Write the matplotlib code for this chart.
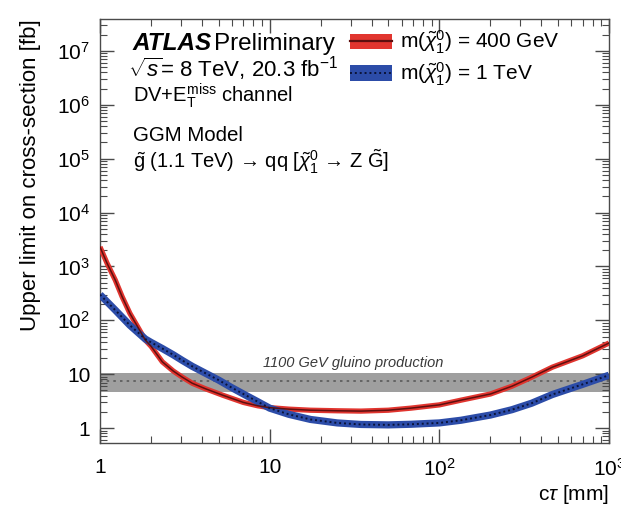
import math
import matplotlib
matplotlib.use("Agg")
import matplotlib.pyplot as plt
from matplotlib.patches import Patch
from matplotlib.lines import Line2D
from matplotlib.legend_handler import HandlerTuple
from matplotlib.ticker import LogLocator, FuncFormatter, NullFormatter

plt.rcParams["font.family"] = ["Liberation Sans", "DejaVu Sans"]
plt.rcParams["mathtext.fontset"] = "custom"
plt.rcParams["mathtext.rm"] = "Liberation Sans"
plt.rcParams["mathtext.it"] = "Liberation Sans:italic"
plt.rcParams["mathtext.bf"] = "Liberation Sans:bold"

# Proper decay length c*tau [mm] and upper limits on cross-section [fb]
ctau_400gev = [1, 1.1, 1.23, 1.35, 1.5, 1.85, 2.0, 2.33, 2.7, 3.06, 3.5, 4.17, 5.27, 7.0, 8.5,
               10, 13, 17.4, 25, 34.5, 50, 68, 100, 134, 200, 268, 350, 463, 700, 1000]
limit_400gev = [2300, 1150, 560, 275, 135, 43, 33, 17, 11.5, 8.8, 6.8, 5.4, 4.1, 3.0, 2.6,
                2.4, 2.25, 2.15, 2.1, 2.07, 2.15, 2.35, 2.7, 3.3, 4.3, 6.0, 8.8, 13.5, 22, 38]

ctau_1tev = [1, 1.23, 1.5, 1.85, 2.0, 2.33, 2.7, 3.06, 3.5, 4.17, 5.0, 6.0, 7.0, 8.5,
             10, 13, 17.4, 25, 34.5, 50, 68, 100, 134, 200, 268, 350, 463, 700, 1000]
limit_1tev = [300, 155, 81, 45, 39, 30, 23, 18, 14, 10.5, 7.8, 5.6, 4.3, 3.1,
              2.35, 1.8, 1.45, 1.25, 1.17, 1.15, 1.18, 1.25, 1.4, 1.75, 2.2, 2.9, 4.2, 6.5, 9.6]

# 1100 GeV gluino production cross-section and its uncertainty band [fb]
xsec_central = 7.4
xsec_low = 4.7
xsec_high = 10.5

series_labels = [r"m($\tilde{\chi}^0_1$) = 400 GeV", r"m($\tilde{\chi}^0_1$) = 1 TeV"]

red_band, red_line = "#e1352f", "#5e0f0f"
blue_band, blue_line = "#2c4ca8", "#0b1338"

fig = plt.figure(figsize=(6.21, 5.16), dpi=100)
ax = fig.add_axes([100 / 621, 1 - 443 / 516, 509 / 621, 424 / 516])
ax.set_xscale("log")
ax.set_yscale("log")
ax.set_xlim(1, 1000)
ax.set_ylim(0.53, 3.9e7)

# Theory cross-section band
ax.axhspan(xsec_low, xsec_high, color="#9f9f9f", lw=0, zorder=1)
ax.axhline(xsec_central, color="#5a5a5a", lw=1.2, ls=(0, (1.5, 2.5)), zorder=1.5)
ax.text(9.1, 13.6, "1100 GeV gluino production", fontsize=10.5, style="italic",
        color="#3a3a3a", ha="left", va="baseline", zorder=2)

# Limit curves: coloured band with a dark central line
ax.plot(ctau_400gev, limit_400gev, color=red_band, lw=3.8, solid_capstyle="butt", zorder=3)
ax.plot(ctau_400gev, limit_400gev, color=red_line, lw=1.1, zorder=4)
ax.plot(ctau_1tev, limit_1tev, color=blue_band, lw=5.2, solid_capstyle="butt", zorder=3)
ax.plot(ctau_1tev, limit_1tev, color=blue_line, lw=1.4, ls=(0, (1, 1.5)), zorder=4)

# Axes styling
for s in ax.spines.values():
    s.set_color("#4a4a4a")
    s.set_linewidth(1.0)

ax.xaxis.set_major_locator(LogLocator(base=10, numticks=10))
ax.xaxis.set_minor_locator(LogLocator(base=10, subs=range(2, 10), numticks=20))
ax.yaxis.set_major_locator(LogLocator(base=10, numticks=20))
ax.yaxis.set_minor_locator(LogLocator(base=10, subs=range(2, 10), numticks=40))


def fmt(v, pos):
    if abs(v - 1) < 1e-9:
        return "1"
    if abs(v - 10) < 1e-9:
        return "10"
    return r"$10^{%d}$" % round(math.log10(v))


ax.xaxis.set_major_formatter(FuncFormatter(fmt))
ax.yaxis.set_major_formatter(FuncFormatter(fmt))
ax.xaxis.set_minor_formatter(NullFormatter())
ax.yaxis.set_minor_formatter(NullFormatter())

ax.tick_params(which="both", direction="in", top=True, right=True, color="#4a4a4a")
ax.tick_params(which="major", length=10, width=1.0)
ax.tick_params(which="minor", length=5, width=0.8)
ax.tick_params(axis="x", which="major", labelsize=15, pad=11)
ax.tick_params(axis="y", which="major", labelsize=15, pad=7)

ax.set_ylabel("Upper limit on cross-section [fb]", fontsize=16, loc="top")
ax.yaxis.set_label_coords(-0.116, 1.0)
ax.set_xlabel(r"c$\tau$ [mm]", fontsize=15, loc="right")
ax.xaxis.set_label_coords(1.0, -0.094)

# Legend: filled box with the central line drawn on top
handles = [
    (Patch(facecolor=red_band, edgecolor="none"), Line2D([], [], color=red_line, lw=1.6)),
    (Patch(facecolor=blue_band, edgecolor="none"), Line2D([], [], color=blue_line, lw=1.4, ls=(0, (1, 1.5)))),
]
leg = ax.legend(handles, series_labels, handler_map={tuple: HandlerTuple(ndivide=1, pad=0)},
                loc="upper left", bbox_to_anchor=(350 / 621, 1 - 29 / 516),
                bbox_transform=fig.transFigure, frameon=False, fontsize=15,
                handlelength=2.0, handleheight=0.75, handletextpad=0.4,
                labelspacing=0.2, borderpad=0, borderaxespad=0)

# Annotation block
x0 = 133 / 621
fig.text(x0, 1 - 50 / 516, "ATLAS", fontsize=17.5, fontweight="bold", style="italic", va="baseline")
fig.text(214 / 621, 1 - 50 / 516, "Preliminary", fontsize=17.5, va="baseline")
fig.text(x0 - 5 / 621, 1 - 77 / 516, r"$\sqrt{s}$= 8 TeV, 20.3 fb$^{-1}$", fontsize=16, va="baseline")
fig.text(x0, 1 - 102 / 516, r"DV+E$_{\mathrm{T}}^{\mathrm{miss}}$ channel", fontsize=14.5, va="baseline")
fig.text(x0, 1 - 141 / 516, "GGM Model", fontsize=14.8, va="baseline")
fig.text(x0, 1 - 168 / 516,
         r"$\tilde{\mathrm{g}}$ (1.1 TeV) → qq [$\tilde{\chi}^0_1$ → Z $\tilde{\mathrm{G}}$]",
         fontsize=14.5, va="baseline")

fig.savefig("out.png", dpi=100, facecolor="white")
